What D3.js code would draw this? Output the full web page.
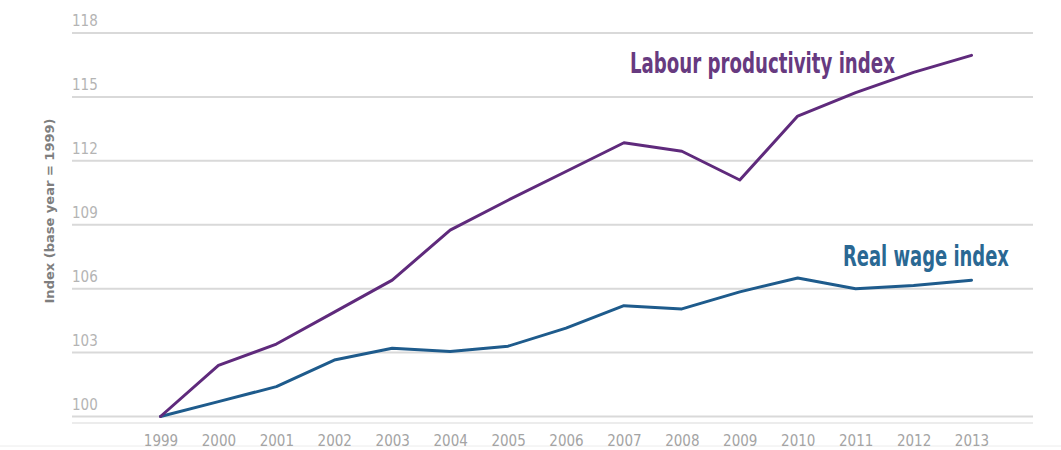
<!DOCTYPE html>
<html>
<head>
<meta charset="utf-8">
<script src="https://cdn.jsdelivr.net/npm/d3@7"></script>
<style>
  body { margin: 0; background: #fff; }
  svg { display: block; }
</style>
</head>
<body>
<script>
// data
var years = [1999, 2000, 2001, 2002, 2003, 2004, 2005, 2006, 2007, 2008, 2009, 2010, 2011, 2012, 2013];
var productivity = [100, 102.4, 103.4, 104.9, 106.4, 108.75, 110.15, 111.5, 112.85, 112.45, 111.1, 114.1, 115.2, 116.15, 116.95];
var realWage = [100, 100.7, 101.4, 102.65, 103.2, 103.05, 103.3, 104.15, 105.2, 105.05, 105.85, 106.5, 106.0, 106.15, 106.4];
var yTicks = [100, 103, 106, 109, 112, 115, 118];

var width = 1061;
var height = 450;

var svg = d3.select("body")
    .append("svg")
    .attr("width", width)
    .attr("height", height);

var x = d3.scaleLinear()
    .domain([1999, 2013])
    .range([160.5, 971.5]);
var y = d3.scaleLinear()
    .domain([100, 118])
    .range([416.5, 33]);

var gridLeft = 72, gridRight = 1033;

// faint page line at the very bottom
svg.append("line")
    .attr("x1", 0).attr("x2", width)
    .attr("y1", 446).attr("y2", 446)
    .attr("stroke", "#ececec")
    .attr("stroke-width", 1);

// horizontal grid lines
svg.selectAll("line.grid")
    .data(yTicks)
    .enter()
    .append("line")
    .attr("class", "grid")
    .attr("x1", gridLeft)
    .attr("x2", gridRight)
    .attr("y1", function(d) { return y(d); })
    .attr("y2", function(d) { return y(d); })
    .attr("stroke", "#d9d9d9")
    .attr("stroke-width", 2);

// second lighter line under the base line
svg.append("line")
    .attr("x1", gridLeft).attr("x2", gridRight)
    .attr("y1", y(100) + 6.5).attr("y2", y(100) + 6.5)
    .attr("stroke", "#e6e6e6")
    .attr("stroke-width", 1.5);

// y tick labels sit above each line
svg.selectAll("text.ytick")
    .data(yTicks)
    .enter()
    .append("text")
    .attr("class", "ytick")
    .attr("x", gridLeft)
    .attr("y", function(d) { return y(d) - 7; })
    .attr("font-family", "DejaVu Sans Condensed, DejaVu Sans, sans-serif")
    .attr("font-size", 15)
    .attr("fill", "#b4b4b4")
    .text(function(d) { return d; });

// y axis title
svg.append("text")
    .attr("transform", "translate(54,211) rotate(-90)")
    .attr("text-anchor", "middle")
    .attr("font-family", "DejaVu Sans Condensed, DejaVu Sans, sans-serif")
    .attr("font-weight", "bold")
    .attr("font-size", 12.5)
    .attr("fill", "#7e7e7e")
    .attr("textLength", 185)
    .attr("lengthAdjust", "spacingAndGlyphs")
    .text("Index (base year = 1999)");

// x axis labels
var xAxis = d3.axisBottom(x)
    .tickValues(years)
    .tickFormat(d3.format("d"))
    .tickSize(0)
    .tickPadding(0);

var gx = svg.append("g")
    .attr("transform", "translate(0,435)")
    .call(xAxis);
gx.select(".domain").remove();
gx.selectAll("text")
    .attr("font-family", "DejaVu Sans Condensed, DejaVu Sans, sans-serif")
    .attr("font-size", 15)
    .attr("fill", "#a4a4a4");

// lines
var line = d3.line()
    .x(function(d, i) { return x(years[i]); })
    .y(function(d) { return y(d); });

svg.append("path")
    .datum(realWage)
    .attr("fill", "none")
    .attr("stroke", "#1e5b8c")
    .attr("stroke-width", 3)
    .attr("stroke-linejoin", "round")
    .attr("stroke-linecap", "round")
    .attr("d", line);

svg.append("path")
    .datum(productivity)
    .attr("fill", "none")
    .attr("stroke", "#5f2a7c")
    .attr("stroke-width", 3)
    .attr("stroke-linejoin", "round")
    .attr("stroke-linecap", "round")
    .attr("d", line);

// series labels: tall condensed type, squeezed horizontally to the reference width
function condensedLabel(txt, lx, ly, target, color) {
    var t = svg.append("text")
        .attr("x", 0)
        .attr("y", 0)
        .attr("font-family", "DejaVu Sans Condensed, DejaVu Sans, sans-serif")
        .attr("font-weight", "bold")
        .attr("font-size", 28)
        .attr("fill", color)
        .text(txt);
    var w = t.node().getComputedTextLength();
    var sx = w > 0 ? target / w : 1;
    t.attr("transform", "translate(" + lx + "," + ly + ") scale(" + sx + ",1)");
    return t;
}
condensedLabel("Labour productivity index", 630, 73, 265, "#673a80");
condensedLabel("Real wage index", 843, 266, 166, "#2a6893");
</script>
</body>
</html>
